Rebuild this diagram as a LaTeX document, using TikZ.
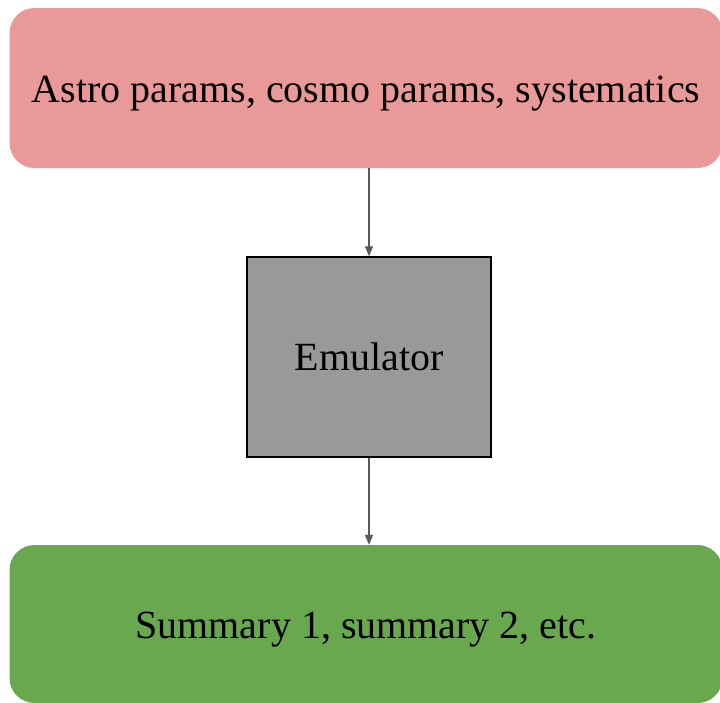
\documentclass[tikz,border=0pt]{standalone}
\usepackage{fontspec}
\setmainfont{Liberation Serif}
\usetikzlibrary{arrows.meta}

\definecolor{astropink}{HTML}{EA9999}
\definecolor{sumgreen}{HTML}{6AA84F}
\definecolor{emugray}{HTML}{999999}
\definecolor{linkgray}{HTML}{595959}

\begin{document}
\begin{tikzpicture}[%
          x=1pt, y=-1pt,
          every node/.style={font=\fontsize{40}{46}\selectfont},
          roundbox/.style={rounded corners=25pt, inner sep=0pt,
                           text height=38pt, text depth=9pt,
                           minimum width=713pt, minimum height=160pt},
          emubox/.style={draw=black, line width=1.5pt, fill=emugray,
                         minimum width=244pt, minimum height=200pt},
          link/.style={draw=linkgray, line width=1.3pt,
                       -{Triangle[length=10pt,width=8pt]}}]

  \useasboundingbox (0,0) rectangle (720,702);
  \clip (0,0) rectangle (720,702);

  \node[roundbox, fill=astropink] (params) at (366,88) {Astro params, cosmo params, systematics};
  \node[emubox] (emu) at (369,357) {Emulator};
  \node[roundbox, fill=sumgreen, minimum height=158pt] (summary) at (366,624) {Summary 1, summary 2, etc.};

  \draw[link] (emu.north |- params.south) -- (emu.north);
  \draw[link] (emu.south) -- (emu.south |- summary.north);

\end{tikzpicture}
\end{document}
